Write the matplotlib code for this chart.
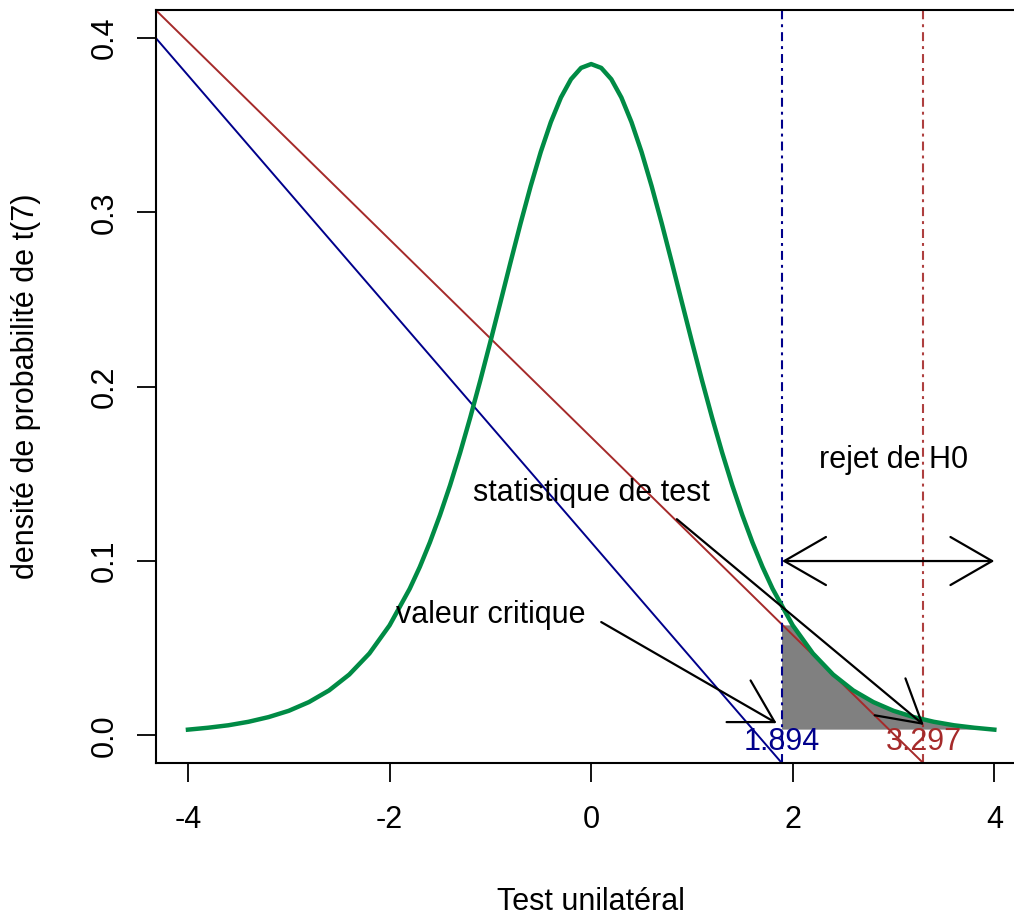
import matplotlib.pyplot as plt
from matplotlib.patches import FancyArrowPatch

plt.rcParams['font.family'] = ['Liberation Sans', 'DejaVu Sans']

# densite de t(7) (pas de 0.2, 0.1 au centre)
x_vals = [-4.0, -3.8, -3.6, -3.4, -3.2, -3.0, -2.8, -2.6, -2.4, -2.2,
          -2.0, -1.8, -1.7, -1.6, -1.5, -1.4, -1.3, -1.2, -1.1, -1.0,
          -0.9, -0.8, -0.7, -0.6, -0.5, -0.4, -0.3, -0.2, -0.1,
          0.0, 0.1, 0.2, 0.3, 0.4, 0.5, 0.6, 0.7, 0.8, 0.9,
          1.0, 1.1, 1.2, 1.3, 1.4, 1.5, 1.6, 1.7, 1.8,
          2.0, 2.2, 2.4, 2.6, 2.8, 3.0, 3.2, 3.4, 3.6, 3.8, 4.0]
dens = [0.0033, 0.0044, 0.0058, 0.0078, 0.0105, 0.0141, 0.0191, 0.0258, 0.0349, 0.0470,
        0.0631, 0.0841, 0.0966, 0.1107, 0.1263, 0.1434, 0.1621, 0.1822, 0.2035, 0.2257,
        0.2484, 0.2713, 0.2937, 0.3150, 0.3346, 0.3517, 0.3658, 0.3763, 0.3828,
        0.3850, 0.3828, 0.3763, 0.3658, 0.3517, 0.3346, 0.3150, 0.2937, 0.2713, 0.2484,
        0.2257, 0.2035, 0.1822, 0.1621, 0.1434, 0.1263, 0.1107, 0.0966, 0.0841,
        0.0631, 0.0470, 0.0349, 0.0258, 0.0191, 0.0141, 0.0105, 0.0078, 0.0058, 0.0044, 0.0033]

crit = 1.894
stat = 3.297

# droites obliques
blue_line_x = [-4.32, 1.894]
blue_line_y = [0.4, -0.016]
red_line_x = [-4.32, 3.297]
red_line_y = [0.416, -0.016]

# fleches (depart, arrivee)
arrow_crit = [(0.1, 0.065), (1.84, 0.007)]
arrow_stat = [(0.85, 0.124), (3.30, 0.006)]
arrow_rejet = [(1.894, 0.1), (4.0, 0.1)]

NAVY = '#00008B'
BROWN = '#A52A2A'
GREEN = '#008B45'
FS = 22

fig = plt.figure(figsize=(10.14, 9.15), dpi=100)
ax = fig.add_axes([155.7 / 1014, (915 - 763.3) / 915, 870.9 / 1014, 753.3 / 915])
ax.set_xlim(-4.32, 4.32)
ax.set_ylim(-0.016, 0.416)

# zone grise (queue droite)
sel = [i for i, v in enumerate(x_vals) if v >= crit]
px = [crit, crit] + [x_vals[i] for i in sel]
py = [dens[-1], dens[sel[0]]] + [dens[i] for i in sel]
ax.fill(px, py, color='#808080', lw=0, zorder=1)

ax.plot(blue_line_x, blue_line_y, color=NAVY, lw=1.4, zorder=2, solid_capstyle='butt')
ax.plot(red_line_x, red_line_y, color=BROWN, lw=1.4, zorder=2, solid_capstyle='butt')

dotdash = (0, (4.3, 2.4, 1.4, 2.4))
ax.axvline(crit, color=NAVY, lw=1.5, ls=dotdash, zorder=2)
ax.axvline(stat, color=BROWN, lw=1.5, ls=dotdash, zorder=2, alpha=0.9)

ax.plot(x_vals, dens, color=GREEN, lw=3.2, zorder=3)

for (x0, y0), (x1, y1) in [arrow_crit, arrow_stat]:
    ax.add_patch(FancyArrowPatch((x0, y0), (x1, y1),
                                 arrowstyle='->,head_length=30,head_width=17.3',
                                 mutation_scale=1, shrinkA=0, shrinkB=0,
                                 color='black', lw=1.6, zorder=4))
(x0, y0), (x1, y1) = arrow_rejet
ax.add_patch(FancyArrowPatch((x0, y0), (x1, y1),
                             arrowstyle='<->,head_length=30,head_width=17.3',
                             mutation_scale=1, shrinkA=0, shrinkB=0,
                             color='black', lw=1.6, zorder=4))

ax.text(-1.0, 0.069, 'valeur critique', fontsize=FS, ha='center', va='center', zorder=5)
ax.text(0.0, 0.139, 'statistique de test', fontsize=FS, ha='center', va='center', zorder=5)
ax.text(3.0, 0.158, 'rejet de H0', fontsize=FS, ha='center', va='center', zorder=5)
ax.text(crit, -0.0035, f'{crit:.3f}', fontsize=FS, ha='center', va='center', color=NAVY, zorder=5)
ax.text(stat, -0.0035, f'{stat:.3f}', fontsize=FS, ha='center', va='center', color=BROWN, zorder=5)

ax.set_xticks([-4, -2, 0, 2, 4])
ax.set_xticklabels(['-4', '-2', '0', '2', '4'], fontsize=FS)
ax.set_yticks([0.0, 0.1, 0.2, 0.3, 0.4])
ax.set_yticklabels(['0.0', '0.1', '0.2', '0.3', '0.4'], fontsize=FS, rotation=90, va='center')
ax.tick_params(axis='x', length=13.7, width=1.3, pad=16)
ax.tick_params(axis='y', length=13.7, width=1.3, pad=12)
for sp in ax.spines.values():
    sp.set_linewidth(1.5)

fig.text(591 / 1014, 1 - 902 / 915, 'Test unilatéral', fontsize=FS, ha='center', va='center')
fig.text(26 / 1014, 1 - 386.5 / 915, 'densité de probabilité de t(7)', fontsize=FS,
         ha='center', va='center', rotation=90)

fig.savefig('out.png', dpi=100)
